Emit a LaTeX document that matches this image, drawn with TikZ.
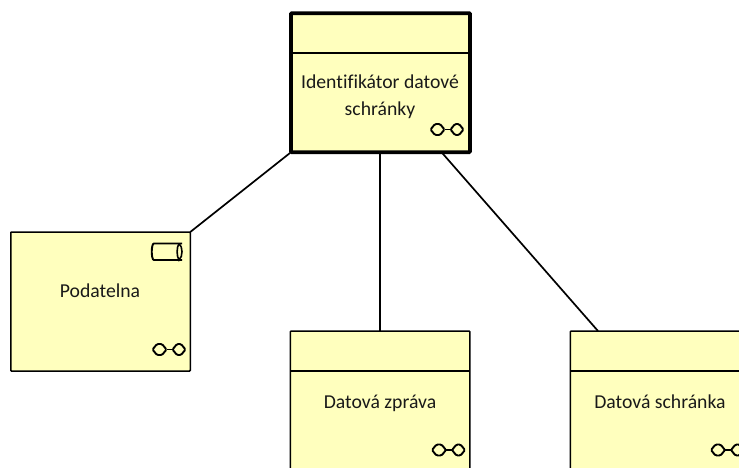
\documentclass[tikz,border=0pt]{standalone}
\usepackage{fontspec}
\setmainfont[RawFeature={-liga;-clig;-dlig}]{Carlito}
\definecolor{elemfill}{HTML}{FFFFBE}
\tikzset{
  elem/.style={draw=black,fill=elemfill,line width=1.5pt,minimum width=179.5pt,minimum height=139pt,inner sep=0pt,outer sep=0pt,rounded corners=0.8pt},
  elemthick/.style={elem,line width=3.6pt,minimum width=179pt,minimum height=139pt},
  sep/.style={draw=black,line width=1.5pt},
  conn/.style={draw=black,line width=1.7pt},
  label/.style={font=\fontsize{19.7}{27}\selectfont,align=center,inner sep=0pt,text=black!90},
  lens/.style={draw=black,line width=1.9pt,rounded corners=1.2pt,fill=elemfill},
  pics/glasses/.style={code={
    \draw[lens] (0,0) -- (4.5,-5.5) -- (9.5,-5.5) -- (14,0) -- (9.5,5.5) -- (4.5,5.5) -- cycle;
    \draw[lens] (20,0) -- (24.5,-5.5) -- (28.5,-5.5) -- (33,0) -- (28.5,5.5) -- (24.5,5.5) -- cycle;
    \draw[lens] (14,0) -- (20,0);
  }}
}
\begin{document}
\begin{tikzpicture}[x=1pt,y=-1pt]
\useasboundingbox (0,0) rectangle (739,467);
\clip (0,0) rectangle (739,467);
\node[elemthick] (top) at (380.5,82.7) {};
\node[elem] (pod) at (100.5,301.5) {};
\node[elem] (zpr) at (380,400.5) {};
\node[elem] (sch) at (660,400.5) {};
\draw[conn] (top.south west) -- (pod.north east);
\draw[conn] (zpr.north |- top.south) -- (zpr.north);
\draw[conn] ([xshift=61pt]top.south) -- ([xshift=-62pt]sch.north);
\draw[sep,line width=2pt] (top.west |- 0,52.5) -- (top.east |- 0,52.5);
\draw[sep] (zpr.west |- 0,371) -- (zpr.east |- 0,371);
\draw[sep] (sch.west |- 0,371) -- (sch.east |- 0,371);
\node[label] (toplabel) at (380,96.5) {Identifikátor datové\\schránky};
\node[label,anchor=base] (podlabel) at (100,297.5) {Podatelna};
\node[label,anchor=base] (zprlabel) at (380,408.5) {Datová zpráva};
\node[label,anchor=base] (schlabel) at (660,408.5) {Datová schránka};
\pic at (430.5,129.5) {glasses};
\pic at (152.5,349.5) {glasses};
\pic at (432,450) {glasses};
\pic at (711,450) {glasses};
\draw[lens,rounded corners=4pt] (182,243.5) -- (158,243.5) .. controls (151,243.5) and (151,260) .. (158,260) -- (182,260);
\draw[draw=black,line width=1.6pt] (179,243.5) .. controls (176.5,247) and (176.5,256.5) .. (179,260) .. controls (183,256.5) and (183,247) .. (179,243.5);
\end{tikzpicture}
\end{document}
